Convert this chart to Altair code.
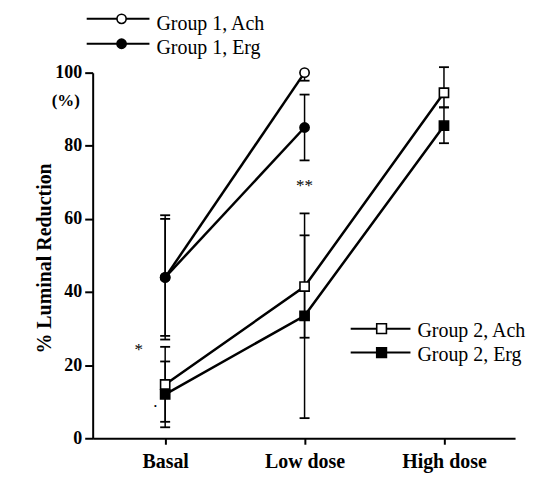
import json
import altair as alt
import pandas as pd

# ---------------- data ----------------
doses = ["Basal", "Low dose", "High dose"]
series_names = ["Group 1, Ach", "Group 1, Erg", "Group 2, Ach", "Group 2, Erg"]

g1_ach = [44, 100]
g1_ach_lo = [27, 97.8]
g1_ach_hi = [61, 100]

g1_erg = [44, 85]
g1_erg_lo = [28, 76]
g1_erg_hi = [60, 94]

g2_ach = [14.7, 41.5, 94.5]
g2_ach_lo = [4.5, 27.5, 90.5]
g2_ach_hi = [25, 55.5, 101.5]

g2_erg = [12, 33.5, 85.5]
g2_erg_lo = [3, 5.5, 80.7]
g2_erg_hi = [21, 61.5, 90.5]

ann_text = ["*", ".", "**"]
ann_x = [-0.19, -0.07, 1.0]
ann_y = [24, 10, 69]

y_ticks = [0, 20, 40, 60, 80, 100]

# ---------------- tables ----------------
series = [
    (series_names[0], g1_ach, g1_ach_lo, g1_ach_hi),
    (series_names[1], g1_erg, g1_erg_lo, g1_erg_hi),
    (series_names[2], g2_ach, g2_ach_lo, g2_ach_hi),
    (series_names[3], g2_erg, g2_erg_lo, g2_erg_hi),
]
rows, caps = [], []
for name, vals, lo, hi in series:
    for i, v in enumerate(vals):
        rows.append({"series": name, "dose": i, "value": v, "lo": lo[i], "hi": hi[i]})
        caps.append({"series": name, "dose": i, "cap": lo[i]})
        caps.append({"series": name, "dose": i, "cap": hi[i]})
df = pd.DataFrame(rows)
df_caps = pd.DataFrame(caps)
df_ann = pd.DataFrame({"text": ann_text, "dose": ann_x, "value": ann_y})

FONT = "Liberation Serif"
x_scale = alt.Scale(domain=[-0.52, 2.51], nice=False, zero=False)
y_scale = alt.Scale(domain=[0, 100], nice=False, zero=True)

label_expr = json.dumps(doses) + "[datum.value]"

x_axis = alt.Axis(values=[0, 1, 2], labelExpr=label_expr, title="", grid=False,
                  labelFont=FONT, labelFontSize=20, labelFontWeight="bold",
                  labelColor="black", labelPadding=7, tickSize=6, tickWidth=2,
                  tickColor="black", domainColor="black", domainWidth=2)
y_axis = alt.Axis(values=y_ticks, title="% Luminal Reduction", grid=False,
                  labelFont=FONT, labelFontSize=18, labelFontWeight="bold",
                  labelColor="black", labelPadding=3, tickSize=8, tickWidth=2,
                  tickColor="black", domainColor="black", domainWidth=2,
                  titleFont=FONT, titleFontSize=20, titleFontWeight="bold",
                  titleColor="black", titleAngle=270, titleX=-48, titleY=186,
                  titleAlign="center", titleBaseline="middle")


def xq(field):
    return alt.X(field + ":Q", scale=x_scale, axis=x_axis)


def yq(field):
    return alt.Y(field + ":Q", scale=y_scale, axis=y_axis)


lines = alt.Chart(df).mark_line(color="black", strokeWidth=2.5).encode(
    x=xq("dose"), y=yq("value"), detail="series:N", order="dose:Q"
)

err = alt.Chart(df).mark_rule(color="black", strokeWidth=1.5).encode(
    x=xq("dose"), y=yq("lo"), y2="hi:Q",
)

cap = alt.Chart(df_caps).mark_rule(color="black", strokeWidth=1.8, xOffset=-5, x2Offset=5).encode(
    x=xq("dose"), x2="dose:Q", y=yq("cap"),
)

points = alt.Chart(df).mark_point(filled=True, stroke="black", strokeWidth=1.6, opacity=1).encode(
    x=xq("dose"),
    y=yq("value"),
    shape=alt.Shape("series:N", scale=alt.Scale(domain=series_names,
                    range=["circle", "circle", "square", "square"]), legend=None),
    fill=alt.Fill("series:N", scale=alt.Scale(domain=series_names,
                  range=["white", "black", "white", "black"]), legend=None),
    size=alt.Size("series:N", scale=alt.Scale(domain=series_names,
                  range=[85, 85, 95, 95]), legend=None),
)

ann = alt.Chart(df_ann).mark_text(font=FONT, fontSize=17, color="black", baseline="middle").encode(
    x=xq("dose"), y=yq("value"), text="text:N",
)

# "(%)" axis annotation
pct = alt.Chart(pd.DataFrame({"t": ["(%)"]})).mark_text(
    font=FONT, fontSize=17, fontWeight="bold", color="black", baseline="middle", align="center"
).encode(x=alt.value(-27), y=alt.value(28), text="t:N")

# ---------------- hand-placed legends (pixel layout relative to plot) ----------------
legend_layout = [
    # (series index, line x1, line x2, marker x, line y, text x, text baseline y)
    (0, -6, 57, 29, -54, 64, -43),
    (1, -6, 57, 29, -29, 64, -19),
    (2, 259, 319, 290, 257, 326, 265),
    (3, 259, 319, 290, 281, 326, 289),
]
marker_shape = ["circle", "circle", "square", "square"]
marker_fill = ["white", "black", "white", "black"]
marker_size = [85, 85, 95, 95]

legend_layers = []
for idx, lx1, lx2, mx, ly, tx, ty in legend_layout:
    one = pd.DataFrame({"label": [series_names[idx]]})
    legend_layers.append(
        alt.Chart(one).mark_rule(color="black", strokeWidth=2).encode(
            x=alt.value(lx1), x2=alt.value(lx2), y=alt.value(ly))
    )
    legend_layers.append(
        alt.Chart(one).mark_point(shape=marker_shape[idx], filled=True,
                                  fill=marker_fill[idx], stroke="black",
                                  strokeWidth=1.6, size=marker_size[idx], opacity=1).encode(
            x=alt.value(mx), y=alt.value(ly))
    )
    legend_layers.append(
        alt.Chart(one).mark_text(font=FONT, fontSize=20, color="black", align="left",
                                 baseline="alphabetic").encode(
            x=alt.value(tx), y=alt.value(ty), text="label:N")
    )

chart = alt.layer(lines, err, cap, points, ann, pct, *legend_layers).properties(
    width=424, height=367,
    padding={"left": 85, "top": 64, "right": 16, "bottom": 37},
    autosize=alt.AutoSizeParams(type="none"),
    background="white",
).configure_view(stroke=None)

chart.save("out.html", embed_options={"renderer": "svg", "actions": False})
